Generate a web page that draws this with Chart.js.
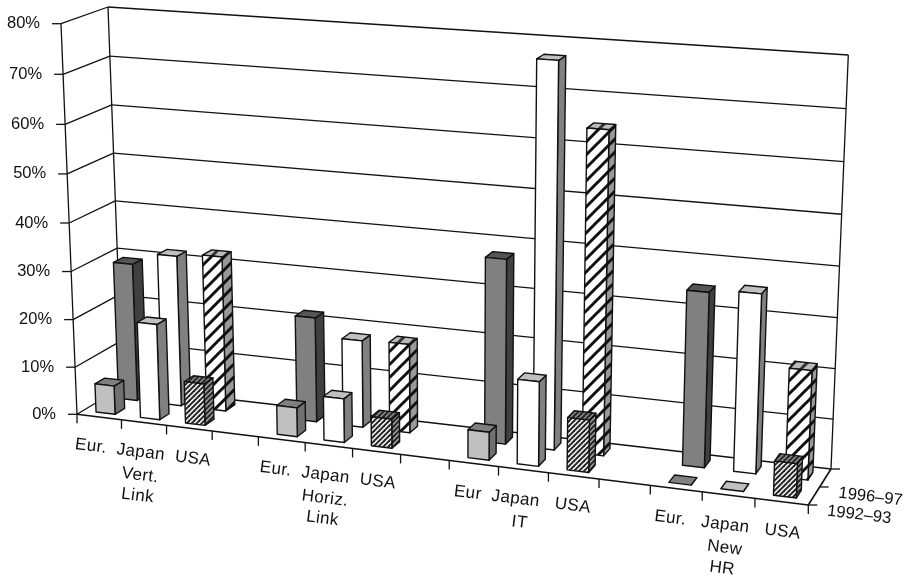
<!DOCTYPE html>
<html>
<head>
<meta charset="utf-8">
<title>Linkage shares by region</title>
<style>
  html, body { margin: 0; padding: 0; background: #fff; }
  canvas { display: block; }
</style>
<script src="https://cdn.jsdelivr.net/npm/chart.js@4/dist/chart.umd.js"></script>
</head>
<body>
<canvas id="chart" width="907" height="578"></canvas>
<script>
// values in percent, one entry per group
const groups = ['Vert. Link', 'Horiz. Link', 'IT', 'New HR']
const rows = ['1992–93', '1996–97']
const eur9293 = [6, 6, 5.7, 0]
const japan9293 = [20, 9, 17, 0]
const usa9293 = [8.7, 6, 10.5, 6.7]
const eur9697 = [29, 21.7, 37.5, 34.8]
const japan9697 = [31.6, 18, 77, 35.5]
const usa9697 = [32.4, 18.3, 64.5, 21.6]

// tick text under each group, first line carries the three regions
const groupLabels = [
  ['Eur.  Japan  USA', 'Vert.', 'Link'],
  ['Eur.  Japan  USA', 'Horiz.', 'Link'],
  ['Eur  Japan   USA', 'IT'],
  ['Eur.   Japan   USA', 'New', 'HR']
]

// 3 bars + 1 empty slot per group
const slots = Array.from({ length: 15 }, (_, i) => String(i))
const spread = (values, offset) => slots.map((_, i) => {
  const g = (i - offset) / 4
  return Number.isInteger(g) && g >= 0 && g < values.length ? values[g] : null
})

// corners of the plot box on the page: [left, right] pairs
const box = {
  floorFront: [[77, 414.3], [808.3, 505]],
  floorBack: [[122.4, 387], [831, 469]],
  topFront: [[61, 23.7], [823, 79]],
  topBack: [[108, 7], [848.3, 55]]
}
const lerp = (a, b, t) => [a[0] + (b[0] - a[0]) * t, a[1] + (b[1] - a[1]) * t]
const warp = (t, w) => (w * t) / (1 - t + w * t)

function project(u, v, d) {
  const tu = warp(u, 0.907)
  const tv = warp(v, 0.96)
  const front = lerp(lerp(box.floorFront[0], box.floorFront[1], tu), lerp(box.topFront[0], box.topFront[1], tu), tv)
  const back = lerp(lerp(box.floorBack[0], box.floorBack[1], tu), lerp(box.topBack[0], box.topBack[1], tu), tv)
  return lerp(front, back, d)
}

function hatch(bg, fg, size, lw) {
  const c = document.createElement('canvas')
  c.width = c.height = size
  const g = c.getContext('2d')
  g.fillStyle = bg
  g.fillRect(0, 0, size, size)
  g.strokeStyle = fg
  g.lineWidth = lw
  g.lineCap = 'square'
  for (const k of [-size, 0, size]) {
    g.beginPath()
    g.moveTo(k, size)
    g.lineTo(k + size, 0)
    g.stroke()
  }
  return g.createPattern(c, 'repeat')
}

const INK = '#111'
const BAR_DEPTH = 0.215

function poly(ctx, pts, fill) {
  ctx.beginPath()
  pts.forEach((p, i) => i ? ctx.lineTo(p[0], p[1]) : ctx.moveTo(p[0], p[1]))
  ctx.closePath()
  ctx.fillStyle = fill
  ctx.fill()
  ctx.stroke()
}

function segment(ctx, a, b) {
  ctx.beginPath()
  ctx.moveTo(a[0], a[1])
  ctx.lineTo(b[0], b[1])
  ctx.stroke()
}

function drawFrame(chart) {
  const { ctx, scales: { x, y } } = chart
  const vOf = val => (y.bottom - y.getPixelForValue(val)) / y.height
  ctx.strokeStyle = INK
  ctx.fillStyle = INK
  ctx.lineWidth = 1.3
  ctx.font = '16.5px "Liberation Sans"'

  y.ticks.forEach(tick => {
    const v = vOf(tick.value)
    segment(ctx, project(0, v, 0), project(0, v, 1))
    segment(ctx, project(0, v, 1), project(1, v, 1))
    const p = project(0, v, 0)
    segment(ctx, [p[0] - 9, p[1]], p)
    ctx.textAlign = 'right'
    ctx.textBaseline = 'middle'
    ctx.fillText(tick.label, p[0] - 21, p[1])
  })

  segment(ctx, project(0, 0, 0), project(0, 1, 0))
  segment(ctx, project(0, 0, 1), project(0, 1, 1))
  segment(ctx, project(1, 0, 1), project(1, 1, 1))

  // floor outline
  ctx.lineWidth = 1.6
  segment(ctx, project(0, 0, 0), project(1, 0, 0))
  segment(ctx, project(1, 0, 0), project(1, 0, 1))

  ctx.lineWidth = 1.3
  for (let i = 0; i <= slots.length; i++) {
    const p = project(i / slots.length, 0, 0)
    segment(ctx, p, [p[0], p[1] + 9])
  }

  // depth axis
  for (let i = 0; i <= rows.length; i++) {
    const p = project(1, 0, i / rows.length)
    segment(ctx, p, [p[0] + 9, p[1]])
  }
  ctx.textAlign = 'left'
  rows.forEach((name, i) => {
    const p = project(1, 0, i / rows.length)
    ctx.save()
    ctx.translate(p[0] + 19, p[1] + 6)
    ctx.rotate(7 * Math.PI / 180)
    ctx.fillText(name, 0, 0)
    ctx.restore()
  })

  // group labels run parallel to the front edge
  const lineOffsets = [0, 23, 43.5]
  ctx.font = '17px "Liberation Sans"'
  ctx.textAlign = 'center'
  ctx.textBaseline = 'middle'
  groupLabels.forEach((lines, g) => {
    const idx = g * 4 + 1
    const u = (x.getPixelForValue(idx) - x.left) / x.width
    const p = project(u, 0, 0)
    ctx.save()
    ctx.translate(p[0] - 1, p[1] + 30)
    ctx.rotate(7 * Math.PI / 180)
    ctx.letterSpacing = '0.4px'
    lines.forEach((line, n) => ctx.fillText(line, 0, lineOffsets[n]))
    ctx.letterSpacing = '0px'
    ctx.restore()
  })
}

function drawBars(chart) {
  const { ctx, scales: { x, y } } = chart
  ctx.strokeStyle = INK
  ctx.lineWidth = 1.4
  ctx.lineJoin = 'round'
  // far row first so the near row paints over it
  ;[1, 0].forEach(row => {
    chart.data.datasets.forEach((ds, di) => {
      if (ds.row !== row) return
      const meta = chart.getDatasetMeta(di)
      ds.data.forEach((val, i) => {
        if (val === null) return
        const el = meta.data[i]
        const u1 = (el.x - el.width / 2 - x.left) / x.width
        const u2 = (el.x + el.width / 2 - x.left) / x.width
        const v0 = (y.bottom - el.base) / y.height
        const v1 = (y.bottom - el.y) / y.height
        const d1 = (row + 0.5) / rows.length - BAR_DEPTH / 2
        const d2 = d1 + BAR_DEPTH
        poly(ctx, [project(u2, v0, d1), project(u2, v1, d1), project(u2, v1, d2), project(u2, v0, d2)], ds.sideColor)
        poly(ctx, [project(u1, v1, d1), project(u2, v1, d1), project(u2, v1, d2), project(u1, v1, d2)], ds.topColor)
        if (val > 0) poly(ctx, [project(u1, v0, d1), project(u2, v0, d1), project(u2, v1, d1), project(u1, v1, d1)], ds.backgroundColor)
      })
    })
  })
}

const perspective = {
  id: 'perspective',
  beforeDatasetsDraw(chart) {
    drawFrame(chart)
    drawBars(chart)
    return false
  }
}

const barStyle = { barPercentage: 0.43, categoryPercentage: 1, grouped: false }

new Chart(document.getElementById('chart'), {
  type: 'bar',
  data: {
    labels: slots,
    datasets: [
      { ...barStyle, label: 'Eur. 1992–93', row: 0, data: spread(eur9293, 0), backgroundColor: '#c0c0c0', sideColor: '#707070', topColor: '#808080' },
      { ...barStyle, label: 'Japan 1992–93', row: 0, data: spread(japan9293, 1), backgroundColor: '#ffffff', sideColor: '#808080', topColor: '#c0c0c0' },
      { ...barStyle, label: 'USA 1992–93', row: 0, data: spread(usa9293, 2), backgroundColor: hatch('#eee', '#222', 5, 1.9), sideColor: hatch('#999', '#222', 5, 1.9), topColor: hatch('#888', '#222', 5, 1.9) },
      { ...barStyle, label: 'Eur. 1996–97', row: 1, data: spread(eur9697, 0), backgroundColor: '#808080', sideColor: '#404040', topColor: '#555555' },
      { ...barStyle, label: 'Japan 1996–97', row: 1, data: spread(japan9697, 1), backgroundColor: '#ffffff', sideColor: '#808080', topColor: '#c0c0c0' },
      { ...barStyle, label: 'USA 1996–97', row: 1, data: spread(usa9697, 2), backgroundColor: hatch('#fff', '#111', 13, 3), sideColor: hatch('#999', '#111', 13, 3), topColor: hatch('#bbb', '#333', 13, 3) }
    ]
  },
  options: {
    responsive: false,
    animation: false,
    layout: { padding: 0 },
    plugins: { legend: { display: false }, tooltip: { enabled: false } },
    scales: {
      x: { display: false },
      y: {
        display: false,
        min: 0,
        max: 80,
        ticks: { stepSize: 10, callback: value => value + '%' }
      }
    }
  },
  plugins: [perspective]
})
</script>
</body>
</html>
